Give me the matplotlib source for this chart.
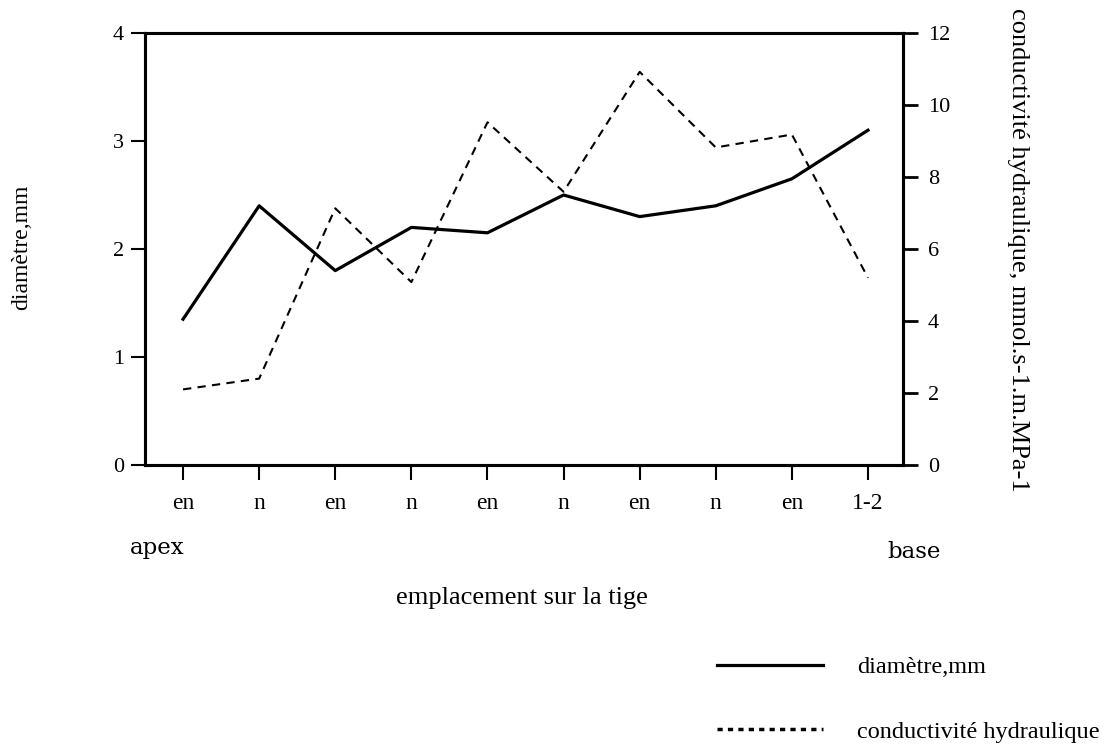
import numpy as np
import matplotlib
matplotlib.use('Agg')
import matplotlib.pyplot as plt
from matplotlib.lines import Line2D

plt.rcParams['font.family'] = ['Liberation Serif', 'DejaVu Serif']

positions = ['en', 'n', 'en', 'n', 'en', 'n', 'en', 'n', 'en', '1-2']
diametre = [1.35, 2.4, 1.8, 2.2, 2.15, 2.5, 2.3, 2.4, 2.65, 3.1]
conductivite = [2.1, 2.4, 7.13, 5.08, 9.52, 7.59, 10.92, 8.82, 9.18, 5.2]

fig = plt.figure(figsize=(11.11, 7.46), dpi=100)
ax = fig.add_axes([145 / 1111, 1 - 465 / 746, 758 / 1111, 432 / 746])
ax2 = ax.twinx()

x = np.arange(len(positions))
ax.plot(x, diametre, color='black', lw=2.3)
ax2.plot(x, conductivite, color='black', lw=1.5, dashes=(4, 3))

ax.set_xlim(-0.5, 9.46)
ax.set_ylim(0, 4)
ax2.set_ylim(0, 12)
ax.set_yticks([0, 1, 2, 3, 4])
ax2.set_yticks([0, 2, 4, 6, 8, 10, 12])
ax.set_xticks(x)
ax.set_xticklabels(positions)

for a in (ax, ax2):
    for s in a.spines.values():
        s.set_linewidth(2.2)
ax.tick_params(axis='x', direction='out', length=11, width=1.5, pad=9, labelsize=17)
ax.tick_params(axis='y', direction='out', length=10, width=1.5, pad=5, labelsize=16)
ax2.tick_params(axis='y', direction='out', length=11, width=2, pad=7, labelsize=16)

# titres des axes
fig.text(22 / 1111, 1 - 247 / 746, 'diamètre,mm', rotation=90,
         ha='center', va='center', fontsize=17)
fig.text(1018 / 1111, 1 - 8 / 746, 'conductivité hydraulique, mmol.s-1.m.MPa-1',
         rotation=-90, ha='center', va='top', fontsize=19)

fig.text(130 / 1111, 1 - 548 / 746, 'apex', ha='left', va='center',
         fontsize=16.5, family='DejaVu Serif')
fig.text(914 / 1111, 1 - 552 / 746, 'base', ha='center', va='center',
         fontsize=16.5, family='DejaVu Serif')
fig.text(522 / 1111, 1 - 598 / 746, 'emplacement sur la tige', ha='center',
         va='center', fontsize=19)

# legende
handles = [Line2D([], [], color='black', lw=2.3),
           Line2D([], [], color='black', lw=2.5, dashes=(1.5, 1.5))]
fig.legend(handles, ['diamètre,mm', 'conductivité hydraulique'],
           loc='upper left', bbox_to_anchor=(717 / 1111, 1 - 656 / 746),
           frameon=False, fontsize=17.5, handlelength=4.35, handletextpad=1.4,
           labelspacing=1.75, borderpad=0, borderaxespad=0)

fig.savefig('out.png', dpi=100)
